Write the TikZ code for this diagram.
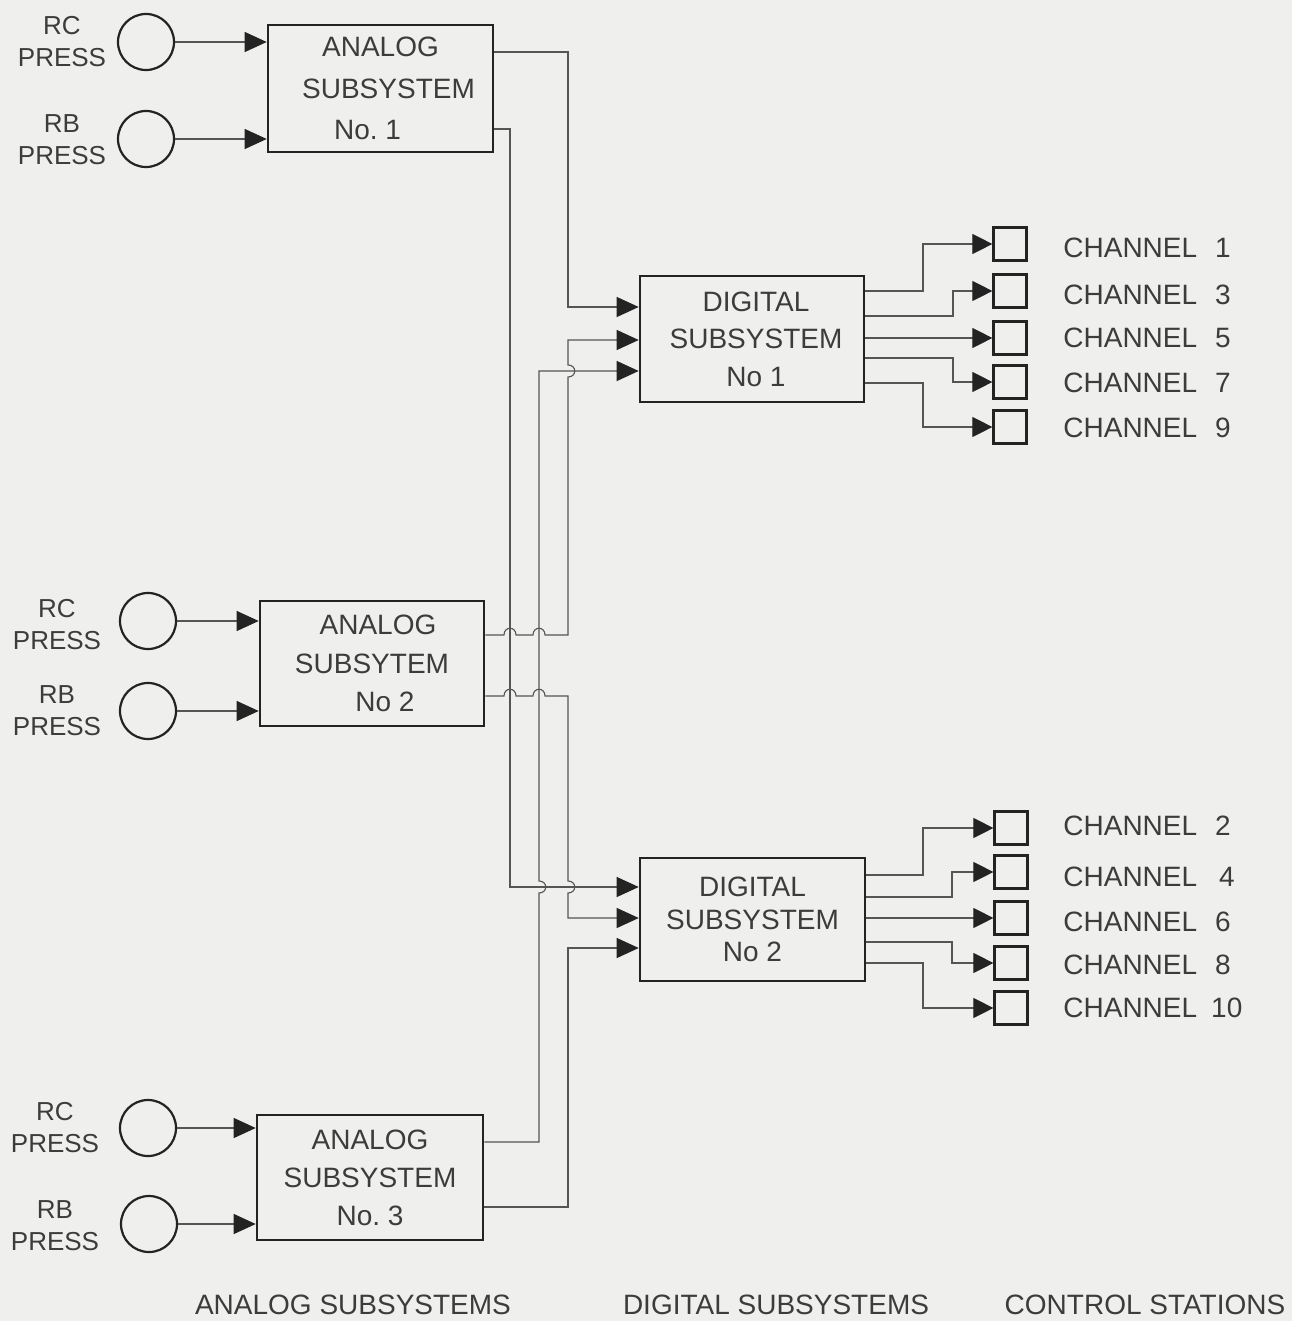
\documentclass[tikz,border=0pt]{standalone}
\usepackage{fontspec}
\setmainfont{Liberation Sans}
\usetikzlibrary{arrows.meta}
\definecolor{bg}{RGB}{239,239,237}
\definecolor{ink}{RGB}{35,35,35}
\definecolor{txt}{RGB}{60,60,60}
\definecolor{wirec}{RGB}{85,85,85}
\begin{document}
\begin{tikzpicture}[x=0.5pt,y=-0.5pt,
  sysbox/.style={draw=ink, line width=1.3pt, rectangle, inner sep=0pt, align=center, text=txt, font=\fontsize{14}{#1}\selectfont},
  sensor/.style={draw=ink, circle, line width=1.1pt, minimum size=28pt, inner sep=0pt},
  station/.style={draw=ink, rectangle, line width=1.1pt, minimum size=16.5pt, inner sep=0pt},
  lbl/.style={text=txt, align=center, font=\fontsize{13}{16}\selectfont, inner sep=0pt},
  chl/.style={text=txt, anchor=west, font=\fontsize{14}{16}\selectfont, inner sep=0pt},
  capt/.style={text=txt, font=\fontsize{14}{16}\selectfont, inner sep=0pt},
  wire/.style={draw=wirec, line width=0.55pt},
  inarr/.style={-{Triangle[length=11pt,width=10pt,color=ink]}},
  outarr/.style={-{Triangle[length=10pt,width=10pt,color=ink]}}
]
\fill[bg] (0,0) rectangle (1292,1321);
\useasboundingbox (0,0) rectangle (1292,1321);

% analog subsystems
\node[sysbox=20.75pt, minimum width=112.5pt, minimum height=63.5pt] (a1) at (380.5,88.5)
  {ANALOG\\\hspace*{8pt}SUBSYSTEM\\No.~1\hspace*{13pt}};
\node[sysbox=19.25pt, minimum width=112pt, minimum height=62.5pt] (a2) at (372,663.5)
  {\hspace*{6pt}ANALOG\\SUBSYTEM\hspace*{10pt}\\\hspace*{13pt}No 2};
\node[sysbox=19pt, minimum width=113pt, minimum height=62.5pt] (a3) at (370,1177.5)
  {ANALOG\\SUBSYSTEM\\No.~3};

% digital subsystems
\node[sysbox=18.75pt, minimum width=112pt, minimum height=63pt] (d1) at (752,339)
  {\hspace*{4pt}DIGITAL\\\hspace*{4pt}SUBSYSTEM\\\hspace*{4pt}No 1};
\node[sysbox=16.25pt, minimum width=112.5pt, minimum height=61.5pt] (d2) at (752.5,919.5)
  {DIGITAL\\SUBSYSTEM\\No 2};

% sensors
\node[sensor] (c1a) at (146,42) {};
\node[sensor] (c1b) at (146,139) {};
\node[sensor] (c2a) at (148,621) {};
\node[sensor] (c2b) at (148,711) {};
\node[sensor] (c3a) at (148,1128) {};
\node[sensor] (c3b) at (149,1224) {};

\node[lbl] (l1a) at (62,42) {RC\\PRESS};
\node[lbl] (l1b) at (62,140) {RB\\PRESS};
\node[lbl] (l2a) at (57,625) {RC\\PRESS};
\node[lbl] (l2b) at (57,711) {RB\\PRESS};
\node[lbl] (l3a) at (55,1128) {RC\\PRESS};
\node[lbl] (l3b) at (55,1226) {RB\\PRESS};

% sensor inputs
\draw[wire, inarr] (c1a) -- (a1.west |- c1a);
\draw[wire, inarr] (c1b) -- (a1.west |- c1b);
\draw[wire, inarr] (c2a) -- (a2.west |- c2a);
\draw[wire, inarr] (c2b) -- (a2.west |- c2b);
\draw[wire, inarr] (c3a) -- (a3.west |- c3a);
\draw[wire, inarr] (c3b) -- (a3.west |- c3b);

% analog -> digital
\draw[wire, inarr] (a1.east |- 0,52) -- (568,52) -- (568,307) -- (d1.west |- 0,307);
\draw[wire, inarr] (a1.east |- 0,129) -- (510,129) -- (510,887) -- (d2.west |- 0,887);
\draw[wire, inarr] (a2.east |- 0,635) -- (504,635) .. controls (504,626) and (516,626) .. (516,635)
  -- (533,635) .. controls (533,626) and (545,626) .. (545,635) -- (568,635)
  -- (568,377) .. controls (577,377) and (577,365) .. (568,365) -- (568,340) -- (d1.west |- 0,340);
\draw[wire, inarr] (a2.east |- 0,696) -- (504,696) .. controls (504,687) and (516,687) .. (516,696)
  -- (533,696) .. controls (533,687) and (545,687) .. (545,696) -- (568,696)
  -- (568,881) .. controls (577,881) and (577,893) .. (568,893) -- (568,918) -- (d2.west |- 0,918);
\draw[wire, inarr] (a3.east |- 0,1142) -- (539,1142) -- (539,893) .. controls (548,893) and (548,881) .. (539,881)
  -- (539,371) -- (d1.west |- 0,371);
\draw[wire, inarr] (a3.east |- 0,1207) -- (568,1207) -- (568,948) -- (d2.west |- 0,948);

% control stations
\node[station] (s1) at (1010,244) {};
\node[station] (s3) at (1010,291) {};
\node[station] (s5) at (1010,338) {};
\node[station] (s7) at (1010,382) {};
\node[station] (s9) at (1010,427) {};
\node[station] (s2) at (1011,828) {};
\node[station] (s4) at (1011,872) {};
\node[station] (s6) at (1011,918) {};
\node[station] (s8) at (1011,963) {};
\node[station] (s10) at (1011,1008) {};

\draw[wire, outarr] (d1.east |- 0,291) -| (923,0 |- s1) -- (s1);
\draw[wire, outarr] (d1.east |- 0,316) -| (953,0 |- s3) -- (s3);
\draw[wire, outarr] (d1.east |- s5) -- (s5);
\draw[wire, outarr] (d1.east |- 0,358) -| (953,0 |- s7) -- (s7);
\draw[wire, outarr] (d1.east |- 0,383) -| (923,0 |- s9) -- (s9);

\draw[wire, outarr] (d2.east |- 0,875) -| (923,0 |- s2) -- (s2);
\draw[wire, outarr] (d2.east |- 0,897) -| (952,0 |- s4) -- (s4);
\draw[wire, outarr] (d2.east |- s6) -- (s6);
\draw[wire, outarr] (d2.east |- 0,942) -| (952,0 |- s8) -- (s8);
\draw[wire, outarr] (d2.east |- 0,963) -| (923,0 |- s10) -- (s10);

\node[chl] (t1) at (1063,248) {CHANNEL\hspace{9pt}1};
\node[chl] (t3) at (1063,295) {CHANNEL\hspace{9pt}3};
\node[chl] (t5) at (1063,338) {CHANNEL\hspace{9pt}5};
\node[chl] (t7) at (1063,383) {CHANNEL\hspace{9pt}7};
\node[chl] (t9) at (1063,428) {CHANNEL\hspace{9pt}9};
\node[chl] (t2) at (1063,826) {CHANNEL\hspace{9pt}2};
\node[chl] (t4) at (1063,877) {CHANNEL\hspace{11pt}4};
\node[chl] (t6) at (1063,922) {CHANNEL\hspace{9pt}6};
\node[chl] (t8) at (1063,965) {CHANNEL\hspace{9pt}8};
\node[chl] (t10) at (1063,1008) {CHANNEL\hspace{7pt}10};

% column captions
\node[capt] (k1) at (353,1305) {ANALOG SUBSYSTEMS};
\node[capt] (k2) at (776,1305) {DIGITAL SUBSYSTEMS};
\node[capt] (k3) at (1145,1305) {CONTROL STATIONS};
\end{tikzpicture}
\end{document}
